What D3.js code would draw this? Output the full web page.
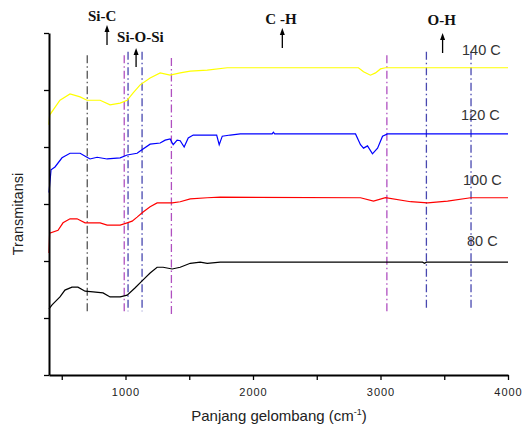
<!DOCTYPE html>
<html lang="en">
<head>
    <meta charset="UTF-8">
    <title>FTIR Transmitansi</title>
    <script src="https://d3js.org/d3.v7.min.js"></script>
    <style>
        body { margin: 0; background: #fff; font-family: "Liberation Sans", Arial, sans-serif; }
        .axis path, .axis line { stroke: #000; }
        .axis path { stroke-width: 2px; }
        .axis line { stroke-width: 1.3px; }
        .axis text { font-size: 11px; fill: #222; letter-spacing: 1px; }
        .spec { fill: none; stroke-width: 1.2px; }
        .temp { font-size: 14.5px; fill: #333; }
        .bond { font-family: "Liberation Serif", "Times New Roman", serif; font-weight: bold; font-size: 15px; fill: #111; }
    </style>
</head>
<body>
<script>
    // spectra: [wavenumber, transmitansi (arb. units)]
    const spec80 = [[400,1.16],[424,1.23],[486,1.37],[525,1.49],[580,1.54],[627,1.54],[683,1.47],[746,1.46],[824,1.44],[879,1.37],[958,1.37],[1013,1.40],[1076,1.53],[1138,1.67],[1193,1.79],[1248,1.89],[1295,1.89],[1366,1.86],[1429,1.89],[1508,1.96],[1586,1.98],[1641,1.96],[1743,1.98],[3330,1.98],[3345,1.96],[3360,1.98],[4000,1.98]];
    const spec100 = [[400,2.14],[405,2.49],[471,2.54],[510,2.67],[565,2.74],[620,2.74],[683,2.67],[801,2.67],[856,2.63],[958,2.63],[1013,2.67],[1052,2.70],[1091,2.77],[1138,2.86],[1193,2.95],[1248,3.02],[1327,3.02],[1366,3.02],[1429,3.04],[1508,3.09],[1641,3.11],[1743,3.12],[2843,3.11],[2945,3.05],[3039,3.11],[3236,3.04],[3369,3.02],[3526,3.05],[3707,3.11],[4000,3.11]];
    const spec120 = [[400,3.20],[416,3.60],[447,3.65],[502,3.81],[565,3.89],[644,3.89],[698,3.82],[722,3.79],[777,3.82],[856,3.79],[958,3.81],[1013,3.86],[1091,3.89],[1115,3.93],[1193,4.05],[1272,4.07],[1311,4.12],[1350,4.14],[1374,4.04],[1405,4.12],[1429,4.11],[1460,4.00],[1492,4.16],[1531,4.21],[1641,4.21],[1715,4.21],[1735,4.04],[1759,4.19],[1822,4.21],[1900,4.23],[2150,4.23],[2160,4.26],[2170,4.23],[2804,4.23],[2843,4.04],[2867,3.98],[2898,4.02],[2937,3.88],[2977,3.98],[3016,4.19],[3055,4.23],[4000,4.23]];
    const spec140 = [[400,4.39],[405,4.56],[486,4.82],[565,4.93],[644,4.88],[698,4.82],[801,4.82],[879,4.74],[958,4.77],[1013,4.82],[1060,4.95],[1115,5.09],[1193,5.21],[1272,5.30],[1350,5.26],[1429,5.30],[1508,5.33],[1641,5.35],[1798,5.39],[2057,5.39],[2827,5.39],[2867,5.32],[2921,5.26],[2961,5.30],[3000,5.37],[3039,5.39],[4000,5.39]];

    const seriesNames = ["80 C", "100 C", "120 C", "140 C"];
    const seriesData = [spec80, spec100, spec120, spec140];
    const seriesColors = ["#000000", "#ff0000", "#0000ff", "#ffff00"];

    // marker lines: wavenumber, top, bottom (transmitansi units)
    const markWn = [700, 990, 1020, 1130, 1360, 3050, 3360, 3710];
    const markTop = [5.61, 5.61, 5.67, 5.67, 5.56, 5.61, 5.67, 5.67];
    const markBottom = [1.09, 1.09, 1.12, 1.12, 1.05, 1.09, 1.14, 1.18];
    const markColors = ["#555555", "#b050c0", "#4848b0", "#4848b0", "#b050c0", "#b050c0", "#4848b0", "#4848b0"];

    // bond annotations
    const bondNames = ["Si-C", "Si-O-Si", "C -H", "O-H"];
    const bondWn = [855, 1083, 2230, 3487];

    const xTickValues = [500, 1000, 1500, 2000, 2500, 3000, 3500, 4000];
    const xTickLabels = { 1000: "1000", 2000: "2000", 3000: "3000", 4000: "4000" };

    const width = 522, height = 426;
    const margin = { left: 49, right: 14, top: 33, bottom: 51 };

    const svg = d3.select("body").append("svg")
        .attr("width", width)
        .attr("height", height);

    const x = d3.scaleLinear().domain([400, 4000]).range([margin.left, width - margin.right]);
    const y = d3.scaleLinear().domain([0, 6]).range([height - margin.bottom, margin.top]);

    // dash-dot marker lines
    svg.selectAll(".mark")
        .data(markWn)
        .join("line")
        .attr("class", "mark")
        .attr("x1", d => x(d)).attr("x2", d => x(d))
        .attr("y1", (d, i) => y(markTop[i]))
        .attr("y2", (d, i) => y(markBottom[i]))
        .attr("stroke", (d, i) => markColors[i])
        .attr("stroke-width", 1.3)
        .attr("stroke-dasharray", "8,3,1.5,3");

    // spectra
    const line = d3.line().x(d => x(d[0])).y(d => y(d[1]));
    svg.selectAll(".spec")
        .data(seriesData)
        .join("path")
        .attr("class", "spec")
        .attr("stroke", (d, i) => seriesColors[i])
        .attr("d", line);

    // axes
    svg.append("g")
        .attr("class", "axis")
        .attr("transform", `translate(0,${height - margin.bottom})`)
        .call(d3.axisBottom(x).tickValues(xTickValues).tickSize(5).tickSizeOuter(0)
            .tickFormat(d => xTickLabels[d] || ""))
        .call(g => g.selectAll("text").attr("dy", "1.2em"));

    svg.append("g")
        .attr("class", "axis")
        .attr("transform", `translate(${margin.left},0)`)
        .call(d3.axisLeft(y).ticks(6).tickSize(5).tickSizeOuter(0).tickFormat(""));

    // temperature labels
    const tempPos = [[467, 246], [463, 185], [461, 120], [462, 55]];
    svg.selectAll(".temp")
        .data(seriesNames)
        .join("text")
        .attr("class", "temp")
        .attr("x", (d, i) => tempPos[i][0])
        .attr("y", (d, i) => tempPos[i][1])
        .text(d => d);

    // bond labels with arrows
    const arrowY = [[25, 45], [48, 67], [28, 48], [33, 53]];
    const textOff = [[-19, 21], [-19, 42], [-17, 24], [-15, 25]];
    const bonds = svg.selectAll(".bondg")
        .data(bondNames)
        .join("g")
        .attr("class", "bondg");
    bonds.append("text")
        .attr("class", "bond")
        .attr("x", (d, i) => x(bondWn[i]) + textOff[i][0])
        .attr("y", (d, i) => textOff[i][1])
        .text(d => d);
    bonds.append("line")
        .attr("x1", (d, i) => x(bondWn[i])).attr("x2", (d, i) => x(bondWn[i]))
        .attr("y1", (d, i) => arrowY[i][0] + 5).attr("y2", (d, i) => arrowY[i][1])
        .attr("stroke", "#000").attr("stroke-width", 1.3);
    bonds.append("path")
        .attr("d", (d, i) => {
            const ax = x(bondWn[i]), ay = arrowY[i][0];
            return `M${ax},${ay} L${ax - 2.5},${ay + 7} L${ax + 2.5},${ay + 7} Z`;
        })
        .attr("fill", "#000");

    // axis titles
    svg.append("text")
        .attr("x", 279).attr("y", 421)
        .attr("text-anchor", "middle")
        .style("font-size", "15px").style("fill", "#222")
        .text("Panjang gelombang (cm")
        .append("tspan").attr("dy", -6).style("font-size", "9px").text("-1")
        .select(function () { return this.parentNode; })
        .append("tspan").attr("dy", 6).text(")");

    svg.append("text")
        .attr("transform", "translate(23,214) rotate(-90)")
        .attr("text-anchor", "middle")
        .style("font-size", "14.5px").style("fill", "#222")
        .text("Transmitansi");
</script>
</body>
</html>
